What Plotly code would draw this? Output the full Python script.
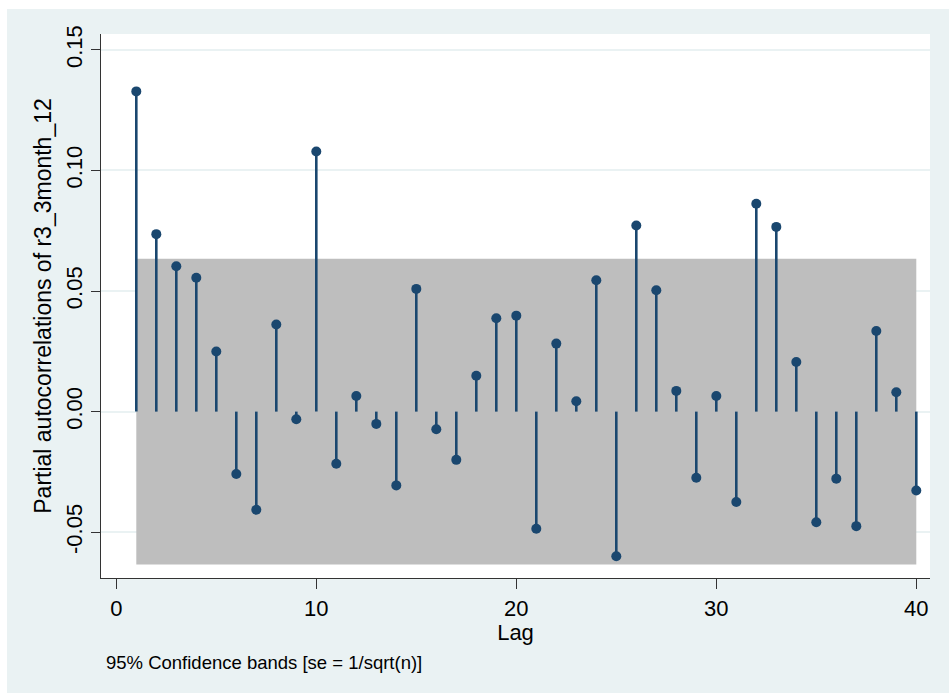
import plotly.graph_objects as go

# Partial autocorrelations of r3_3month_12, lags 1..40
lags = list(range(1, 41))
pacf = [
    0.1328, 0.0736, 0.0603, 0.0555, 0.0249, -0.0259, -0.0407, 0.0361, -0.0032, 0.1079,
    -0.0216, 0.0065, -0.0051, -0.0306, 0.0509, -0.0073, -0.0200, 0.0149, 0.0387, 0.0398,
    -0.0486, 0.0282, 0.0043, 0.0545, -0.0600, 0.0772, 0.0503, 0.0086, -0.0274, 0.0065,
    -0.0375, 0.0862, 0.0766, 0.0206, -0.0459, -0.0278, -0.0475, 0.0334, 0.0080, -0.0327,
]
conf_band = 0.0634  # 95% band, se = 1/sqrt(n)

x_ticks = [0, 10, 20, 30, 40]
y_ticks = [-0.05, 0.0, 0.05, 0.10, 0.15]
y_tick_labels = ["-0.05", "0.00", "0.05", "0.10", "0.15"]

NAVY = "#1A476F"
BAND = "#BEBEBE"
GRAPH_BG = "#EAF2F3"
FONT = "Liberation Sans, Arial, sans-serif"

fig = go.Figure()

# confidence band
fig.add_trace(go.Scatter(
    x=[lags[0], lags[-1], lags[-1], lags[0], lags[0]],
    y=[-conf_band, -conf_band, conf_band, conf_band, -conf_band],
    mode="lines", fill="toself", fillcolor=BAND,
    line=dict(width=0, color=BAND), hoverinfo="skip",
))

# stems from zero to each value
stem_x, stem_y = [], []
for lag, v in zip(lags, pacf):
    stem_x += [lag, lag, None]
    stem_y += [0, v, None]
fig.add_trace(go.Scatter(
    x=stem_x, y=stem_y, mode="lines",
    line=dict(color=NAVY, width=2.6), hoverinfo="skip",
))

# markers
fig.add_trace(go.Scatter(
    x=lags, y=pacf, mode="markers",
    marker=dict(color=NAVY, size=10, line=dict(width=0)),
))

W, H = 949, 693
L, R, T, B = 101, 19, 34, 115
pw, ph = W - L - R, H - T - B

def px_x(p):
    return (p - L) / pw

def px_y(p):
    return (H - B - p) / ph

fig.update_layout(
    width=W, height=H,
    margin=dict(l=L, r=R, t=T, b=B, pad=0),
    paper_bgcolor=GRAPH_BG, plot_bgcolor="white",
    showlegend=False,
    font=dict(family=FONT, color="#000000"),
    xaxis=dict(
        range=[-0.765, 40.685], tickvals=x_ticks,
        ticks="outside", ticklen=10, tickwidth=1.2, tickcolor="#333333",
        showline=True, linecolor="#333333", linewidth=1.2,
        showgrid=False, zeroline=False,
        tickfont=dict(size=22, family=FONT, color="#000000"),
        title=dict(text="Lag", font=dict(size=22, family=FONT, color="#000000"), standoff=2),
    ),
    yaxis=dict(
        range=[-0.0690, 0.1566], tickvals=y_ticks, ticktext=y_tick_labels,
        tickangle=-90,
        ticks="outside", ticklen=9, tickwidth=1.2, tickcolor="#333333",
        showline=True, linecolor="#333333", linewidth=1.2,
        showgrid=True, gridcolor=GRAPH_BG, gridwidth=1.6, zeroline=False,
        tickfont=dict(size=22, family=FONT, color="#000000"),
        title=dict(text="Partial autocorrelations of r3_3month_12",
                   font=dict(size=23, family=FONT, color="#000000"), standoff=4),
    ),
    shapes=[
        # white page edge at left and top of the graph region
        dict(type="rect", xref="paper", yref="paper", layer="below",
             x0=px_x(0), x1=px_x(7), y0=px_y(H), y1=px_y(0),
             fillcolor="white", line=dict(width=0)),
        dict(type="rect", xref="paper", yref="paper", layer="below",
             x0=px_x(0), x1=px_x(W), y0=px_y(9), y1=px_y(0),
             fillcolor="white", line=dict(width=0)),
    ],
    annotations=[
        dict(text="95% Confidence bands [se = 1/sqrt(n)]",
             xref="paper", yref="paper", x=px_x(104), y=px_y(662),
             xanchor="left", yanchor="middle", showarrow=False,
             font=dict(size=18.5, family=FONT, color="#000000")),
    ],
)

fig.write_html("out.html")
